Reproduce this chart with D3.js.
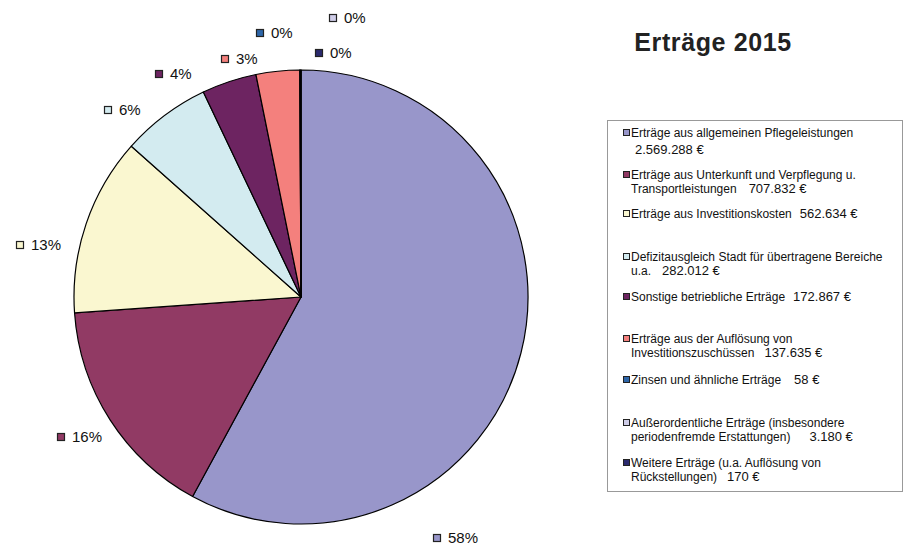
<!DOCTYPE html>
<html>
<head>
<meta charset="utf-8">
<script src="https://cdn.jsdelivr.net/npm/d3@7"></script>
<style>
  html, body { margin: 0; padding: 0; background: #fff; }
  svg { display: block; font-family: "Liberation Sans", Arial, sans-serif; }
</style>
</head>
<body>
<svg id="chart" width="906" height="547"></svg>
<script>
// ---- data ----
const title = "Erträge 2015";
const categories = [
  "Erträge aus allgemeinen Pflegeleistungen",
  "Erträge aus Unterkunft und Verpflegung u. Transportleistungen",
  "Erträge aus Investitionskosten",
  "Defizitausgleich Stadt für übertragene Bereiche u.a.",
  "Sonstige betriebliche Erträge",
  "Erträge aus der Auflösung von Investitionszuschüssen",
  "Zinsen und ähnliche Erträge",
  "Außerordentliche Erträge (insbesondere periodenfremde Erstattungen)",
  "Weitere Erträge (u.a. Auflösung von Rückstellungen)"
];
const values = [2569288, 707832, 562634, 282012, 172867, 137635, 58, 3180, 170];
const valueLabels = ["2.569.288 €", "707.832 €", "562.634 €", "282.012 €", "172.867 €", "137.635 €", "58 €", "3.180 €", "170 €"];
// legend text as wrapped in the reference (line 1, line 2 before the value)
const legendLine1 = [
  "Erträge aus allgemeinen Pflegeleistungen",
  "Erträge aus Unterkunft und Verpflegung u.",
  "Erträge aus Investitionskosten",
  "Defizitausgleich Stadt für übertragene Bereiche",
  "Sonstige betriebliche Erträge",
  "Erträge aus der Auflösung von",
  "Zinsen und ähnliche Erträge",
  "Außerordentliche Erträge (insbesondere",
  "Weitere Erträge (u.a. Auflösung von"
];
const legendLine2 = [
  "",
  "Transportleistungen",
  null,
  "u.a.",
  null,
  "Investitionszuschüssen",
  null,
  "periodenfremde Erstattungen)",
  "Rückstellungen)"
];

// ---- style / layout ----
const colors = ["#9896CA", "#913A64", "#FAF7D0", "#D3EBF0", "#6D2461", "#F4807D", "#2E66A9", "#CFCDE8", "#2B2A6E"];
const pieCenter = [301, 297];
const pieRadius = 227;
// percentage label anchors (marker left, text centre line)
const pctLabelPos = [[433, 538], [57, 437], [16, 245], [104, 110], [155, 74], [221, 59], [256, 33], [329, 18], [315, 53]];
const legendBox = { x: 607, y: 120, w: 295, h: 371 };
const legendY = [133, 175, 214, 257, 297, 339, 380, 423, 463];
const legendLine2Off = [17, 14, 0, 14, 0, 14, 0, 14, 14];
const legendValueGap = [0, 12, 8, 11, 8, 10, 13, 19, 10];

const svg = d3.select("#chart");

// ---- pie ----
const total = d3.sum(values);
const pie = d3.pie().sort(null).value(d => d).startAngle(0).endAngle(2 * Math.PI);
const arc = d3.arc().innerRadius(0).outerRadius(pieRadius);
const arcs = pie(values);

const g = svg.append("g").attr("transform", `translate(${pieCenter[0]},${pieCenter[1]})`);
g.selectAll("path.slice")
  .data(arcs)
  .join("path")
  .attr("class", "slice")
  .attr("d", arc)
  .attr("fill", (d, i) => colors[i])
  .attr("stroke", "#000")
  .attr("stroke-width", 1.2)
  .attr("stroke-linejoin", "round");

// ---- percentage labels ----
const pctFmt = v => Math.round(v / total * 100) + "%";
const lbl = svg.append("g");
values.forEach((v, i) => {
  const [x, y] = pctLabelPos[i];
  lbl.append("rect")
    .attr("x", x + 0.5).attr("y", y - 3.5)
    .attr("width", 7).attr("height", 7)
    .attr("fill", colors[i]).attr("stroke", "#222").attr("stroke-width", 1.2);
  lbl.append("text")
    .attr("x", x + 15).attr("y", y).attr("dy", "0.36em")
    .attr("font-size", 15).attr("fill", "#111")
    .text(pctFmt(v));
});

// ---- title ----
svg.append("text")
  .attr("x", 713).attr("y", 42).attr("dy", "0.36em")
  .attr("text-anchor", "middle")
  .attr("font-size", 25).attr("font-weight", "bold").attr("fill", "#222")
  .attr("letter-spacing", 0.6)
  .text(title);

// ---- legend ----
const lg = svg.append("g");
lg.append("rect")
  .attr("x", legendBox.x + 0.5).attr("y", legendBox.y + 0.5)
  .attr("width", legendBox.w).attr("height", legendBox.h)
  .attr("fill", "#fff").attr("stroke", "#999").attr("stroke-width", 1);

const textX = 631;
categories.forEach((c, i) => {
  const y = legendY[i];
  lg.append("rect")
    .attr("x", 623.5).attr("y", y - 3.5)
    .attr("width", 6).attr("height", 6)
    .attr("fill", colors[i]).attr("stroke", "#222").attr("stroke-width", 1);
  const t1 = lg.append("text")
    .attr("x", textX).attr("y", y).attr("dy", "0.36em")
    .attr("font-size", 12).attr("fill", "#111");
  t1.append("tspan").text(legendLine1[i]);
  if (legendLine2[i] === null) {
    t1.append("tspan").attr("dx", legendValueGap[i]).attr("font-size", 13).text(valueLabels[i]);
  } else {
    const t2 = lg.append("text")
      .attr("x", legendLine2[i] === "" ? textX + 4 : textX)
      .attr("y", y + legendLine2Off[i]).attr("dy", "0.36em")
      .attr("font-size", 12).attr("fill", "#111");
    if (legendLine2[i] !== "") t2.append("tspan").text(legendLine2[i]);
    t2.append("tspan").attr("dx", legendValueGap[i]).attr("font-size", 13).text(valueLabels[i]);
  }
});
</script>
</body>
</html>
